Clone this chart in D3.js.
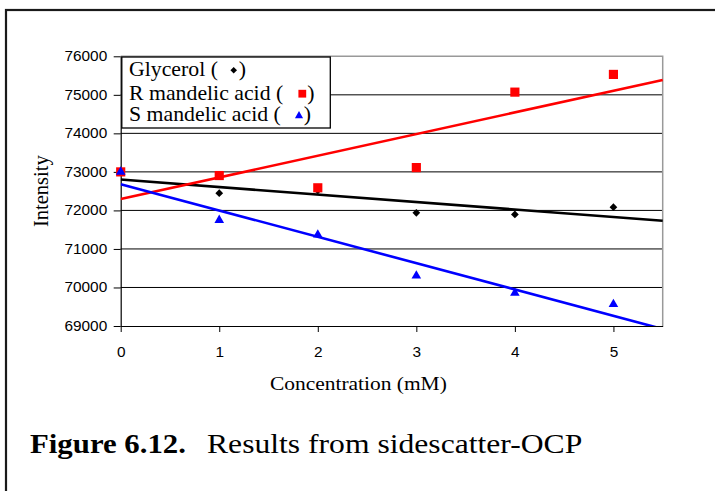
<!DOCTYPE html>
<html>
<head>
<meta charset="utf-8">
<script src="https://cdn.jsdelivr.net/npm/d3@7"></script>
<style>
  html, body { margin: 0; padding: 0; background: #fff; }
  svg { display: block; }
</style>
</head>
<body>
<svg id="chart" width="715" height="491"></svg>
<script>
// Side-scatter intensity versus concentration for three additives
const concentrations = [0, 1, 2, 3, 4, 5];
const glycerol   = [73000, 72448, 72520, 71938, 71897, 72085];
const rMandelic  = [73000, 72905, 72587, 73111, 75070, 75530];
const sMandelic  = [73000, 71747, 71370, 70302, 69855, 69563];
const yTickValues = [69000, 70000, 71000, 72000, 73000, 74000, 75000, 76000];
const xTickValues = [0, 1, 2, 3, 4, 5];
const seriesNames = ["Glycerol (", "R mandelic acid (", "S mandelic acid ("];

const svg = d3.select("#chart");
const STRETCH = 1.1;            // typeset text is slightly wide
const SANS = "'Liberation Sans', Arial, sans-serif";
const SERIF = "'Liberation Serif', 'Times New Roman', serif";

// Outer frame of the figure
svg.append("rect")
  .attr("x", 6).attr("y", 10).attr("width", 800).attr("height", 600)
  .attr("fill", "none").attr("stroke", "#1a1a1a").attr("stroke-width", 2.2);

const plot = { left: 120.7, right: 662.7, top: 56.3, bottom: 326 };
const x = d3.scaleLinear().domain([0, 5.5]).range([plot.left, plot.right]);
const y = d3.scaleLinear().domain([69000, 76000]).range([plot.bottom, plot.top]);

// Horizontal gridlines
svg.append("g").selectAll("line")
  .data(yTickValues.filter(v => v > 69000 && v < 76000))
  .join("line")
  .attr("x1", plot.left).attr("x2", plot.right)
  .attr("y1", d => y(d)).attr("y2", d => y(d))
  .attr("stroke", "#000").attr("stroke-width", 1);

// Plot-area border (top and right)
svg.append("path")
  .attr("d", `M${plot.left},${plot.top}H${plot.right}V${plot.bottom}`)
  .attr("fill", "none").attr("stroke", "#999").attr("stroke-width", 1.5);

// Axes
const intFmt = d3.format("d");
const yAxis = svg.append("g")
  .attr("transform", `translate(${plot.left},0)`)
  .call(d3.axisLeft(y).tickValues(yTickValues).tickFormat(intFmt)
    .tickSize(7).tickSizeOuter(0).tickPadding(6.5));
const xAxis = svg.append("g")
  .attr("transform", `translate(0,${plot.bottom})`)
  .call(d3.axisBottom(x).tickValues(xTickValues).tickFormat(intFmt)
    .tickSize(6).tickSizeOuter(0).tickPadding(15));

[yAxis, xAxis].forEach(g => {
  g.attr("font-family", SANS);
  g.select(".domain").attr("stroke", "#000").attr("stroke-width", 1.2);
  g.selectAll(".tick line").attr("stroke", "#000").attr("stroke-width", 1);
  g.selectAll(".tick text")
    .attr("font-family", SANS).attr("font-size", 14).attr("fill", "#000")
    .each(function () {
      const t = d3.select(this);
      const tx = +t.attr("x") || 0;
      const ty = +t.attr("y") || 0;
      t.attr("x", 0).attr("y", 0)
        .attr("transform", `translate(${tx},${ty}) scale(${STRETCH},1)`);
    });
});

// Helper for horizontally stretched text
function label(str, px, py, size, family, anchor, weight, stretch) {
  return svg.append("text")
    .attr("transform", `translate(${px},${py}) scale(${stretch || STRETCH},1)`)
    .attr("text-anchor", anchor || "start")
    .attr("font-family", family).attr("font-size", size)
    .attr("font-weight", weight || "normal")
    .attr("fill", "#000")
    .text(str);
}

// Axis titles
label("Concentration (mM)", 358.4, 390, 19.5, SERIF, "middle");
svg.append("text")
  .attr("transform", `translate(48.3,${(plot.top + plot.bottom) / 2}) rotate(-90)`)
  .attr("text-anchor", "middle")
  .attr("font-family", SERIF).attr("font-size", 20.5).attr("fill", "#000")
  .text("Intensity");

// Least-squares trend line
function linearFit(xs, ys) {
  const n = xs.length;
  const mx = d3.mean(xs), my = d3.mean(ys);
  let sxy = 0, sxx = 0;
  for (let i = 0; i < n; i++) {
    sxy += (xs[i] - mx) * (ys[i] - my);
    sxx += (xs[i] - mx) ** 2;
  }
  const slope = sxy / sxx;
  return { slope, intercept: my - slope * mx };
}

svg.append("clipPath").attr("id", "plot-clip")
  .append("rect")
  .attr("x", plot.left).attr("y", plot.top)
  .attr("width", plot.right - plot.left + 3).attr("height", plot.bottom - plot.top);

const series = [
  { name: seriesNames[0], values: glycerol,  color: "#000000", symbol: "diamond" },
  { name: seriesNames[1], values: rMandelic, color: "#ff0000", symbol: "square" },
  { name: seriesNames[2], values: sMandelic, color: "#0000ff", symbol: "triangle" }
];

const trendG = svg.append("g").attr("clip-path", "url(#plot-clip)");
const line = d3.line().x(d => x(d[0])).y(d => y(d[1]));
series.forEach(s => {
  const fit = linearFit(concentrations, s.values);
  const ends = [0, 5.5].map(c => [c, fit.intercept + fit.slope * c]);
  trendG.append("path")
    .attr("d", line(ends))
    .attr("fill", "none").attr("stroke", s.color).attr("stroke-width", 2.6);
});

// Marker shapes
function marker(g, kind, cx, cy, color, scale) {
  scale = scale || 1;
  if (kind === "diamond") {
    g.append("path")
      .attr("d", d3.symbol(d3.symbolSquare, 30 * scale * scale)())
      .attr("transform", `translate(${cx},${cy}) rotate(45)`)
      .attr("fill", color);
  } else if (kind === "square") {
    g.append("path")
      .attr("d", d3.symbol(d3.symbolSquare, 84 * scale * scale)())
      .attr("transform", `translate(${cx},${cy})`)
      .attr("fill", color);
  } else {
    g.append("path")
      .attr("d", d3.symbol(d3.symbolTriangle, 40 * scale * scale)())
      .attr("transform", `translate(${cx},${cy})`)
      .attr("fill", color);
  }
}

// Data points
const pointsG = svg.append("g");
series.forEach(s => {
  s.values.forEach((v, i) => {
    marker(pointsG, s.symbol, x(concentrations[i]), y(v), s.color);
  });
});

// Legend
svg.append("rect")
  .attr("x", 121.8).attr("y", 57).attr("width", 208.5).attr("height", 71)
  .attr("fill", "#fff").attr("stroke", "#000").attr("stroke-width", 1.3);
const legendRows = [
  { base: 76,    mx: 233.7, my: 70.3,  close: 238.7 },
  { base: 99.6,  mx: 302.3, my: 93.7,  close: 307.3 },
  { base: 121,   mx: 299,   my: 115.8, close: 303.7 }
];
const legendG = svg.append("g");
series.forEach((s, i) => {
  const r = legendRows[i];
  label(s.name, 129, r.base, 20, SERIF, "start", "normal", 1.09);
  marker(legendG, s.symbol, r.mx, r.my, s.color, 0.85);
  label(")", r.close, r.base, 20, SERIF, "start", "normal", 1.09);
});

// Caption
label("Figure 6.12.", 30, 453.3, 28, SERIF, "start", "bold");
label("Results from sidescatter-OCP", 207, 453.3, 28, SERIF, "start", "normal", 1.13);
</script>
</body>
</html>
